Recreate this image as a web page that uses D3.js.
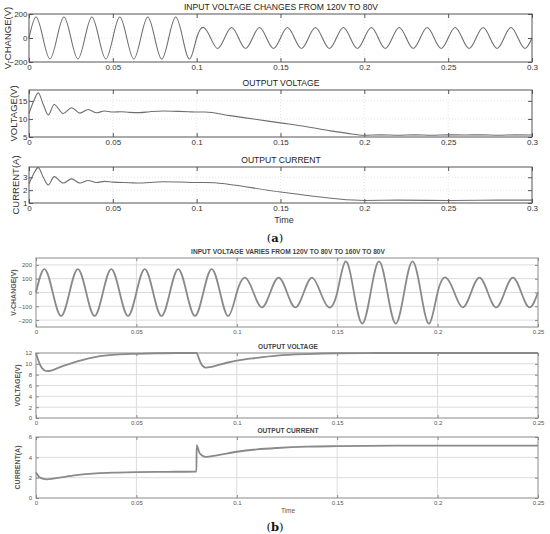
<!DOCTYPE html>
<html>
<head>
<meta charset="utf-8">
<script src="https://cdn.jsdelivr.net/npm/d3@7"></script>
<style>
  body { margin: 0; background: #fff; }
  svg { display: block; font-family: Arial, "Liberation Sans", sans-serif; }
</style>
</head>
<body>
<script>
// ---- data ----
const period = 1 / 60; // 60 Hz mains

const aTicks = [0, 0.05, 0.1, 0.15, 0.2, 0.25, 0.3];
const bTicks = [0, 0.05, 0.1, 0.15, 0.2, 0.25];

// peak value of each half cycle, (a) input voltage 120V -> 80V
const aInputPeaks = [
  175, -175, 175, -175, 175, -175, 175, -175, 175, -175, 175, -175,
  88, -88, 88, -88, 88, -88, 88, -88, 88, -88, 88, -88,
  88, -88, 88, -88, 88, -88, 88, -88, 88, -88, 88, -88
];

// (a) output voltage
const aVoltT = [0, 0.0025, 0.0055, 0.0085, 0.0115, 0.015, 0.0204, 0.0254, 0.0304, 0.0353,
  0.0403, 0.045, 0.05, 0.055, 0.06, 0.066, 0.072, 0.08, 0.088, 0.095, 0.1, 0.105,
  0.12, 0.135, 0.15, 0.165, 0.18, 0.19, 0.2, 0.21, 0.22, 0.23, 0.24, 0.25, 0.26, 0.27, 0.28, 0.29, 0.3];
const aVoltV = [11.5, 14.6, 17.2, 14.0, 11.1, 14.0, 11.5, 13.1, 11.6, 12.6,
  11.7, 12.2, 11.9, 12.0, 11.8, 11.75, 12.0, 12.2, 12.1, 12.0, 11.9, 11.9,
  10.9, 9.9, 8.9, 7.9, 6.7, 6.0, 5.5, 5.6, 5.5, 5.6, 5.5, 5.6, 5.55, 5.6, 5.5, 5.6, 5.55];

// (a) output current
const aCurT = [0, 0.0025, 0.0055, 0.0085, 0.0115, 0.015, 0.0204, 0.0254, 0.0304, 0.0353,
  0.0403, 0.045, 0.05, 0.06, 0.066, 0.072, 0.08, 0.09, 0.1, 0.105, 0.15, 0.2, 0.22, 0.25, 0.28, 0.3];
const aCurV = [2.5, 3.2, 3.75, 3.0, 2.4, 3.05, 2.55, 2.88, 2.55, 2.75,
  2.6, 2.68, 2.62, 2.58, 2.55, 2.6, 2.65, 2.63, 2.6, 2.6, 1.85, 1.2, 1.22, 1.2, 1.22, 1.22];

// peak value of each half cycle, (b) input voltage 120V -> 80V -> 160V -> 80V
const bInputPeaks = [
  170, -170, 170, -170, 170, -170, 170, -170, 170, -170, 170, -170,
  108, -108, 108, -108, 108, -108,
  225, -225, 225, -225, 225, -225,
  108, -108, 108, -108, 108, -108
];

// (b) output voltage
const bVoltT = [0, 0.001, 0.003, 0.0053, 0.008, 0.012, 0.016, 0.022, 0.03, 0.04, 0.05, 0.06,
  0.07, 0.08, 0.0805, 0.082, 0.0845, 0.088, 0.095, 0.1, 0.11, 0.12, 0.135, 0.15, 0.17, 0.2, 0.25];
const bVoltV = [12, 10.8, 9.2, 8.65, 8.8, 9.4, 9.9, 10.6, 11.3, 11.7, 11.85, 11.95,
  12, 12, 11.6, 10.2, 9.3, 9.5, 10.2, 10.6, 11.1, 11.5, 11.8, 11.95, 12, 12, 12];

// (b) output current
const bCurT = [0, 0.002, 0.0053, 0.01, 0.02, 0.03, 0.04, 0.05, 0.06, 0.07, 0.0799, 0.08,
  0.0815, 0.0845, 0.09, 0.1, 0.11, 0.12, 0.135, 0.15, 0.18, 0.2, 0.25];
const bCurV = [2.5, 2.0, 1.83, 1.95, 2.25, 2.42, 2.5, 2.55, 2.57, 2.58, 2.6, 5.2,
  4.4, 4.05, 4.2, 4.55, 4.78, 4.92, 5.05, 5.1, 5.15, 5.15, 5.15];

// ---- helpers ----
// zero crossings + half-cycle peaks, smoothed by d3's natural curve
function wavePoints(peaks) {
  const pts = [[0, 0]];
  peaks.forEach((p, k) => {
    pts.push([(k + 0.5) * period / 2, p]);
    pts.push([(k + 1) * period / 2, 0]);
  });
  return pts;
}
function zipPoints(ts, vs) {
  return ts.map((t, i) => [t, vs[i]]);
}

const svg = d3.select("body").append("svg")
  .attr("width", 550).attr("height", 534);

function panel(o) {
  const x = d3.scaleLinear().domain(o.xDomain).range([o.x0, o.x1]);
  const y = d3.scaleLinear().domain(o.yDomain).range([o.y1, o.y0]);
  const g = svg.append("g");

  // grid
  g.append("g").selectAll("line").data(o.xTicks.slice(1, -1)).join("line")
    .attr("x1", d => x(d)).attr("x2", d => x(d))
    .attr("y1", o.y0).attr("y2", o.y1)
    .attr("stroke", o.gridColor).attr("stroke-dasharray", o.gridDash)
    .attr("stroke-width", 1);
  g.append("g").selectAll("line").data(o.yTicks.filter(d => y(d) > o.y0 + 1 && y(d) < o.y1 - 1)).join("line")
    .attr("x1", o.x0).attr("x2", o.x1)
    .attr("y1", d => y(d)).attr("y2", d => y(d))
    .attr("stroke", o.gridColor).attr("stroke-dasharray", o.gridDash)
    .attr("stroke-width", 1);

  // data line
  g.append("path")
    .datum(o.points)
    .attr("fill", "none")
    .attr("stroke", o.lineColor)
    .attr("stroke-width", o.lineWidth)
    .attr("d", d3.line().x(d => x(d[0])).y(d => y(d[1])).curve(o.curve));

  // axes (ticks inward on all four sides)
  const axisStyle = sel => {
    sel.select(".domain").remove();
    sel.selectAll(".tick line").attr("stroke", o.frameColor);
    sel.selectAll(".tick text").attr("fill", o.textColor)
      .style("font-size", o.tickFont + "px");
  };
  g.append("g").attr("transform", `translate(0,${o.y1})`)
    .call(d3.axisBottom(x).tickValues(o.xTicks).tickFormat(d3.format("~g"))
      .tickSizeInner(-o.tickLen).tickPadding(o.xPad))
    .call(axisStyle);
  g.append("g").attr("transform", `translate(0,${o.y0})`)
    .call(d3.axisTop(x).tickValues(o.xTicks).tickFormat("").tickSizeInner(-o.tickLen))
    .call(axisStyle);
  g.append("g").attr("transform", `translate(${o.x0},0)`)
    .call(d3.axisLeft(y).tickValues(o.yTicks).tickFormat(d3.format("~g"))
      .tickSizeInner(-o.tickLen).tickPadding(o.yPad))
    .call(axisStyle);
  g.append("g").attr("transform", `translate(${o.x1},0)`)
    .call(d3.axisRight(y).tickValues(o.yTicks).tickFormat("").tickSizeInner(-o.tickLen))
    .call(axisStyle);

  // frame
  g.append("rect")
    .attr("x", o.x0).attr("y", o.y0)
    .attr("width", o.x1 - o.x0).attr("height", o.y1 - o.y0)
    .attr("fill", "none").attr("stroke", o.frameColor).attr("stroke-width", 1);

  // title
  g.append("text")
    .attr("x", o.titleX).attr("y", o.y0 - o.titleGap)
    .attr("text-anchor", "middle")
    .attr("fill", o.titleColor)
    .style("font-size", o.titleFont + "px")
    .style("font-weight", o.titleWeight)
    .text(o.title);

  // y label
  g.append("text")
    .attr("transform", `translate(${o.yLabelX},${(o.y0 + o.y1) / 2}) rotate(-90)`)
    .attr("text-anchor", "middle")
    .attr("fill", o.textColor)
    .style("font-size", o.yLabelFont + "px")
    .style("font-weight", o.yLabelWeight || "normal")
    .text(o.yLabel);
}

// ---- (a) ----
const aStyle = {
  xDomain: [0, 0.3], xTicks: aTicks, x0: 29, x1: 532,
  lineColor: "#6f6f6f", lineWidth: 1.1, frameColor: "#555", textColor: "#333",
  gridColor: "#e4e4e4", gridDash: "1,2", tickLen: 4, tickFont: 8, xPad: 2, yPad: 1.5,
  titleColor: "#222", titleFont: 8.6, titleWeight: "normal", titleGap: 4, titleX: 281,
  yLabelFont: 9.5, curve: d3.curveMonotoneX
};
panel(Object.assign({}, aStyle, {
  y0: 14, y1: 62, yDomain: [-200, 200], yTicks: [-200, 0, 200],
  points: wavePoints(aInputPeaks), curve: d3.curveNatural,
  title: "INPUT VOLTAGE CHANGES FROM 120V TO 80V", yLabel: "V-CHANGE(V)", yLabelX: 11
}));
panel(Object.assign({}, aStyle, {
  y0: 90, y1: 137, yDomain: [5, 18], yTicks: [5, 10, 15],
  points: zipPoints(aVoltT, aVoltV),
  title: "OUTPUT VOLTAGE", yLabel: "VOLTAGE(V)", yLabelX: 17
}));
panel(Object.assign({}, aStyle, {
  y0: 167, y1: 203, yDomain: [1, 3.8], yTicks: [1, 2, 3],
  points: zipPoints(aCurT, aCurV),
  title: "OUTPUT CURRENT", yLabel: "CURRENT(A)", yLabelX: 19
}));
svg.append("text").attr("x", 284).attr("y", 223).attr("text-anchor", "middle")
  .attr("fill", "#333").style("font-size", "9px").text("Time");
svg.append("text").attr("x", 275).attr("y", 242).attr("text-anchor", "middle")
  .attr("fill", "#111").style("font-family", "'DejaVu Serif', 'Liberation Serif', serif")
  .style("font-size", "11.5px").html("(<tspan font-weight='bold'>a</tspan>)");

// ---- (b) ----
const bStyle = {
  xDomain: [0, 0.25], xTicks: bTicks, x0: 36, x1: 538,
  lineColor: "#8a8a8a", lineWidth: 1.8, frameColor: "#8a8a8a", textColor: "#555",
  gridColor: "#dcdcdc", gridDash: null, tickLen: 3, tickFont: 6, xPad: 2.5, yPad: 4,
  titleColor: "#444", titleFont: 6.6, titleWeight: "bold", titleGap: 4, titleX: 288,
  yLabelFont: 7, yLabelWeight: "bold", curve: d3.curveMonotoneX
};
panel(Object.assign({}, bStyle, {
  y0: 258, y1: 327, yDomain: [-250, 250], yTicks: [-200, -100, 0, 100, 200],
  points: wavePoints(bInputPeaks), curve: d3.curveNatural,
  title: "INPUT VOLTAGE VARIES FROM 120V TO 80V TO 160V TO 80V", yLabel: "V-CHANGE(V)", yLabelX: 16
}));
panel(Object.assign({}, bStyle, {
  y0: 353, y1: 418, yDomain: [0, 12], yTicks: [0, 2, 4, 6, 8, 10, 12],
  points: zipPoints(bVoltT, bVoltV),
  title: "OUTPUT VOLTAGE", yLabel: "VOLTAGE(V)", yLabelX: 20
}));
panel(Object.assign({}, bStyle, {
  y0: 437, y1: 498, yDomain: [0, 6], yTicks: [0, 2, 4, 6],
  points: zipPoints(bCurT, bCurV),
  title: "OUTPUT CURRENT", yLabel: "CURRENT(A)", yLabelX: 20
}));
svg.append("text").attr("x", 288).attr("y", 513).attr("text-anchor", "middle")
  .attr("fill", "#555").style("font-size", "6.5px").text("Time");
svg.append("text").attr("x", 275).attr("y", 531).attr("text-anchor", "middle")
  .attr("fill", "#111").style("font-family", "'DejaVu Serif', 'Liberation Serif', serif")
  .style("font-size", "11.5px").html("(<tspan font-weight='bold'>b</tspan>)");
</script>
</body>
</html>
